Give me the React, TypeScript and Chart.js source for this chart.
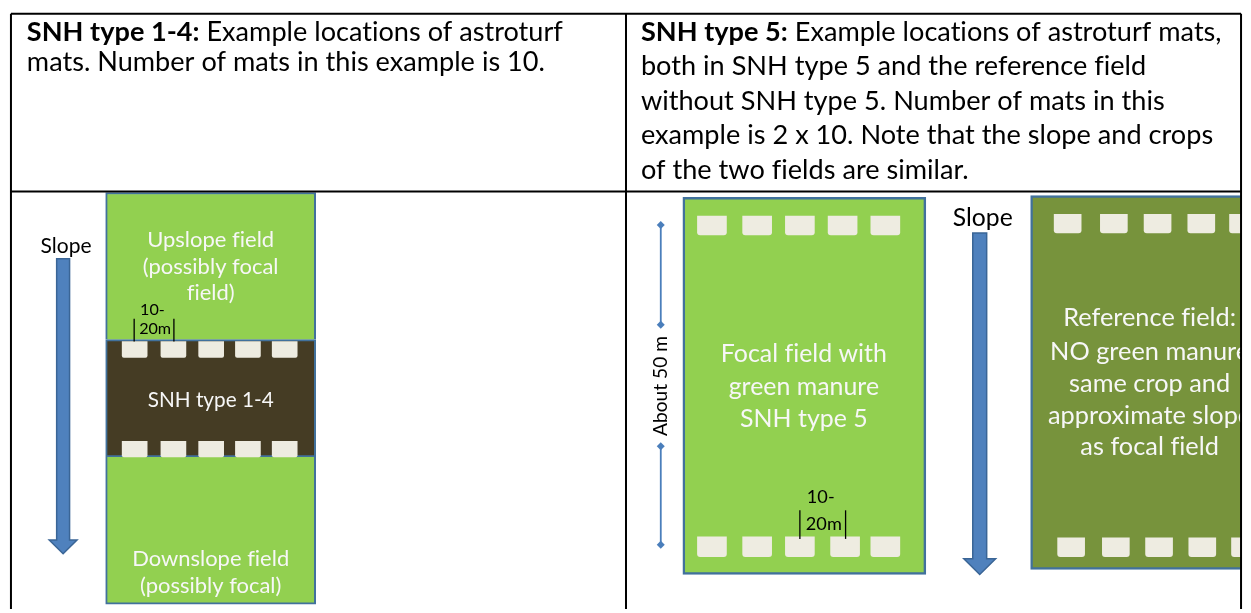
import React, { useEffect, useRef } from "react";
import { Chart, registerables } from "chart.js";

Chart.register(...registerables);

const CANVAS_W = 1251;
const CANVAS_H = 613;
const X_MIN = 0;
const X_MAX = 1251;
const Y_MIN = 0;
const Y_MAX = 613;
const FONT = "Lato, 'Open Sans', sans-serif";
const UNIT = CANVAS_W / (X_MAX - X_MIN);

// ---- table grid (diagram units) ----
const gridX0 = [7, 7, 7, 626, 1245];
const gridY0 = [10, 190, 10, 10, 10];
const gridX1 = [1245, 1245, 7, 626, 1245];
const gridY1 = [10, 190, 613, 613, 613];

// ---- header text ----
const headerBold = ["SNH type 1-4:", "SNH type 5:"];
const headerLeftLines = [" Example locations of astroturf", "mats. Number of mats in this example is 10."];
const headerRightLines = [
  " Example locations of astroturf mats,",
  "both in SNH type 5 and the reference field",
  "without SNH type 5. Number of mats in this",
  "example is 2 x 10. Note that the slope and crops",
  "of the two fields are similar.",
];
const headerX = [23, 641];
const headerLeftBaselines = [37, 68];
const headerRightBaselines = [37, 72, 107, 142, 177];
const headerFitLine = [1, 3];
const headerFitWidth = [518, 572];

// ---- fields (floating bars) ----
const leftFieldCenter = [208, 208, 208];
const leftFieldWidth = 210;
const leftFieldTop = [191, 340, 459];
const leftFieldBottom = [340, 459, 608];
const leftFieldColors = ["#92d050", "#453c24", "#92d050"];

const focalFieldCenter = [805.5];
const focalFieldWidth = 243;
const focalFieldTop = [196];
const focalFieldBottom = [578];

const refFieldCenter = [1153];
const refFieldWidth = 238;
const refFieldTop = [194];
const refFieldBottom = [573];

// ---- astroturf mats ----
const snhMatX = [131.5, 170.5, 208.5, 245.5, 282.5];
const snhMatRowTop = [342, 443];
const snhMatRowBottom = [358, 459];
const snhMatWidth = 25;

const focalMatTopX = [712.5, 758, 801, 844, 887];
const focalMatBottomX = [712.5, 758, 801, 846.5, 887];
const focalMatRowTop = [215, 540];
const focalMatRowBottom = [234, 560];
const focalMatWidth = 29;

const refMatTopX = [1070.5, 1117, 1161, 1205, 1247];
const refMatBottomX = [1074, 1119, 1162.5, 1206, 1249];
const refMatRowTop = [213, 541];
const refMatRowBottom = [232, 560];
const refMatWidth = 27;

// ---- field labels ----
const labelTexts = [
  ["Upslope field", "(possibly focal", "field)"],
  ["SNH type 1-4"],
  ["Downslope field", "(possibly focal)"],
  ["Focal field with", "green manure", "SNH type 5"],
  ["Reference field:", "NO green manure", "same crop and", "approximate slope", "as focal field"],
];
const labelCenterX = [208, 208, 208, 805, 1153];
const labelLineY = [
  [239, 266, 293],
  [402],
  [562, 590],
  [355, 388, 420],
  [318, 352, 385, 417, 449],
];
const labelFitLine = [0, 0, 0, 0, 2];
const labelFitWidth = [127, 126, 157, 166, 161];

// ---- slope arrows ----
const slopeLabelX = [62.5, 985];
const slopeLabelY = [245, 217];
const slopeLabelWidth = [51, 60];
const arrowCenterX = [59.5, 982];
const arrowTop = [258, 232];
const arrowHeadStart = [543, 562];
const arrowTip = [557, 578];
const arrowShaftW = [13, 14];
const arrowHeadW = [28, 32];

// ---- spacing markers "10-20m" ----
const spacingBarX = [[131, 171], [801, 847]];
const spacingBarTop = [319, 513];
const spacingBarBottom = [342, 542];
const spacingTextX = [136, 807];
const spacingLine1Y = [310, 500];
const spacingLine2Y = [329, 527];
const spacingFitWidth = [32, 36];
const spacingLines = ["10-", "20m"];

// ---- "About 50 m" dimension line ----
const dimX = 661;
const dimY = [224, 325, 448, 548];
const dimLabel = "About 50 m";
const dimLabelY = 387;
const dimLabelWidth = 100;

const FIELD_BORDER = "#41719c";
const MAT_COLOR = "#eeece1";

function floatBars(centers: number[], tops: number[], bottoms: number[]) {
  return centers.map((c, i) => ({ x: c, y: [tops[i], bottoms[i]] }));
}

function matRow(xs: number[], top: number, bottom: number) {
  return xs.map((c) => ({ x: c, y: [top, bottom] }));
}

const diagramPlugin = {
  id: "diagramAnnotations",
  afterDatasetsDraw(chart: any) {
    const ctx: any = chart.ctx;
    const sx = chart.scales.x;
    const sy = chart.scales.y;
    const px = (v: number) => sx.getPixelForValue(v);
    const py = (v: number) => sy.getPixelForValue(v);

    ctx.save();
    // non-zero letter spacing switches off the "fi" ligature
    if ("letterSpacing" in ctx) ctx.letterSpacing = "0.01px";

    const fit = (text: string, w: number, weight = "normal") => {
      ctx.font = `${weight} 100px ${FONT}`;
      return (100 * w * UNIT) / ctx.measureText(text).width;
    };

    // arrows
    arrowCenterX.forEach((cx, i) => {
      const s = arrowShaftW[i] / 2;
      const h = arrowHeadW[i] / 2;
      const pts: [number, number][] = [
        [cx - s, arrowTop[i]],
        [cx + s, arrowTop[i]],
        [cx + s, arrowHeadStart[i]],
        [cx + h, arrowHeadStart[i]],
        [cx, arrowTip[i]],
        [cx - h, arrowHeadStart[i]],
        [cx - s, arrowHeadStart[i]],
      ];
      ctx.beginPath();
      pts.forEach(([a, b], k) => (k === 0 ? ctx.moveTo(px(a), py(b)) : ctx.lineTo(px(a), py(b))));
      ctx.closePath();
      ctx.fillStyle = "#4f81bd";
      ctx.fill();
      ctx.lineWidth = 1.5;
      ctx.strokeStyle = "#3a6596";
      ctx.stroke();
    });

    // slope labels
    ctx.fillStyle = "#000";
    ctx.textAlign = "center";
    ctx.textBaseline = "middle";
    slopeLabelX.forEach((x, i) => {
      const size = fit("Slope", slopeLabelWidth[i]);
      ctx.font = `${size}px ${FONT}`;
      ctx.fillText("Slope", px(x), py(slopeLabelY[i]));
    });

    // header texts
    ctx.textAlign = "left";
    ctx.textBaseline = "alphabetic";
    const headers = [headerLeftLines, headerRightLines];
    const baselines = [headerLeftBaselines, headerRightBaselines];
    headers.forEach((lines, c) => {
      const size = fit(lines[headerFitLine[c]], headerFitWidth[c]);
      lines.forEach((line, k) => {
        let x = px(headerX[c]);
        const y = py(baselines[c][k]);
        if (k === 0) {
          ctx.font = `bold ${size}px ${FONT}`;
          ctx.fillText(headerBold[c], x, y);
          x += ctx.measureText(headerBold[c]).width;
        }
        ctx.font = `${size}px ${FONT}`;
        ctx.fillText(line, x, y);
      });
    });

    // field labels
    ctx.save();
    ctx.beginPath();
    ctx.rect(px(X_MIN), py(190), px(1244) - px(X_MIN), py(Y_MAX) - py(190));
    ctx.clip();
    ctx.fillStyle = "#f7f7f7";
    ctx.textAlign = "center";
    ctx.textBaseline = "middle";
    labelTexts.forEach((lines, g) => {
      const size = fit(lines[labelFitLine[g]], labelFitWidth[g]);
      ctx.font = `${size}px ${FONT}`;
      lines.forEach((line, k) => ctx.fillText(line, px(labelCenterX[g]), py(labelLineY[g][k])));
    });
    ctx.restore();

    // spacing markers
    ctx.strokeStyle = "#000";
    ctx.lineWidth = 1.3;
    spacingBarX.forEach((xs, i) => {
      xs.forEach((x) => {
        ctx.beginPath();
        ctx.moveTo(px(x), py(spacingBarTop[i]));
        ctx.lineTo(px(x), py(spacingBarBottom[i]));
        ctx.stroke();
      });
      const size = fit(spacingLines[1], spacingFitWidth[i]);
      ctx.font = `${size}px ${FONT}`;
      ctx.fillStyle = "#000";
      ctx.textAlign = "left";
      ctx.textBaseline = "middle";
      ctx.fillText(spacingLines[0], px(spacingTextX[i] + 1), py(spacingLine1Y[i]));
      ctx.fillText(spacingLines[1], px(spacingTextX[i]), py(spacingLine2Y[i]));
    });

    // rotated dimension label
    ctx.save();
    ctx.translate(px(dimX), py(dimLabelY));
    ctx.rotate(-Math.PI / 2);
    const dsize = fit(dimLabel, dimLabelWidth);
    ctx.font = `${dsize}px ${FONT}`;
    ctx.fillStyle = "#000";
    ctx.textAlign = "center";
    ctx.textBaseline = "middle";
    ctx.fillText(dimLabel, 0, 0);
    ctx.restore();

    ctx.restore();
  },
};

export default function App() {
  const canvasRef = useRef<HTMLCanvasElement | null>(null);

  useEffect(() => {
    document.body.style.margin = "0";
    const canvas = canvasRef.current;
    if (!canvas) return;

    const clipRight = { left: 10, top: 10, right: -6, bottom: 10 };

    const gridDatasets = gridX0.map((x0, i) => ({
      type: "line" as const,
      data: [
        { x: x0, y: gridY0[i] },
        { x: gridX1[i], y: gridY1[i] },
      ],
      borderColor: "#000",
      borderWidth: 2,
      pointRadius: 0,
      fill: false,
      tension: 0,
      order: 0,
      clip: false as const,
    }));

    const dimDatasets = [0, 2].map((k) => ({
      type: "line" as const,
      data: [
        { x: dimX, y: dimY[k] },
        { x: dimX, y: dimY[k + 1] },
      ],
      borderColor: "#4a7ebb",
      backgroundColor: "#4a7ebb",
      borderWidth: 1.8,
      pointStyle: "rectRot",
      pointRadius: 4,
      pointBorderWidth: 0,
      fill: false,
      order: 0,
    }));

    const fieldBase = {
      type: "bar" as const,
      borderColor: FIELD_BORDER,
      borderSkipped: false,
      grouped: false,
      order: 3,
    };

    const datasets: any[] = [
      ...gridDatasets,
      ...dimDatasets,
      {
        ...fieldBase,
        data: floatBars(leftFieldCenter, leftFieldTop, leftFieldBottom),
        backgroundColor: leftFieldColors,
        borderWidth: [
          { top: 2, left: 2, right: 2, bottom: 0 },
          { top: 2, left: 2, right: 2, bottom: 2 },
          { top: 0, left: 2, right: 2, bottom: 2 },
        ],
        barThickness: leftFieldWidth * UNIT,
      },
      {
        ...fieldBase,
        data: floatBars(focalFieldCenter, focalFieldTop, focalFieldBottom),
        backgroundColor: "#92d050",
        borderWidth: 2.5,
        barThickness: focalFieldWidth * UNIT,
      },
      {
        ...fieldBase,
        data: floatBars(refFieldCenter, refFieldTop, refFieldBottom),
        backgroundColor: "#77933c",
        borderWidth: 2.5,
        barThickness: refFieldWidth * UNIT,
        clip: clipRight,
      },
      ...[0, 1].map((r) => ({
        type: "bar" as const,
        data: matRow(snhMatX, snhMatRowTop[r], snhMatRowBottom[r]),
        backgroundColor: MAT_COLOR,
        borderWidth: 0,
        borderRadius: 2,
        barThickness: snhMatWidth * UNIT,
        grouped: false,
        order: 2,
      })),
      ...[0, 1].map((r) => ({
        type: "bar" as const,
        data: matRow(r === 0 ? focalMatTopX : focalMatBottomX, focalMatRowTop[r], focalMatRowBottom[r]),
        backgroundColor: MAT_COLOR,
        borderWidth: 0,
        borderRadius: 3,
        barThickness: focalMatWidth * UNIT,
        grouped: false,
        order: 2,
      })),
      ...[0, 1].map((r) => ({
        type: "bar" as const,
        data: matRow(r === 0 ? refMatTopX : refMatBottomX, refMatRowTop[r], refMatRowBottom[r]),
        backgroundColor: MAT_COLOR,
        borderWidth: 0,
        borderRadius: 3,
        barThickness: refMatWidth * UNIT,
        grouped: false,
        order: 2,
        clip: clipRight,
      })),
    ];

    const chart = new Chart(canvas, {
      type: "scatter",
      data: { datasets },
      options: {
        responsive: false,
        maintainAspectRatio: false,
        animation: false,
        events: [],
        layout: { padding: 0 },
        plugins: {
          legend: { display: false },
          tooltip: { enabled: false },
        },
        scales: {
          x: { type: "linear", min: X_MIN, max: X_MAX, display: false, offset: false },
          y: { type: "linear", min: Y_MIN, max: Y_MAX, reverse: true, display: false },
        },
      },
      plugins: [diagramPlugin],
    } as any);

    return () => chart.destroy();
  }, []);

  return (
    <div style={{ position: "fixed", left: 0, top: 0, width: CANVAS_W, height: CANVAS_H, background: "#fff" }}>
      <canvas ref={canvasRef} width={CANVAS_W} height={CANVAS_H} style={{ display: "block" }} />
    </div>
  );
}
